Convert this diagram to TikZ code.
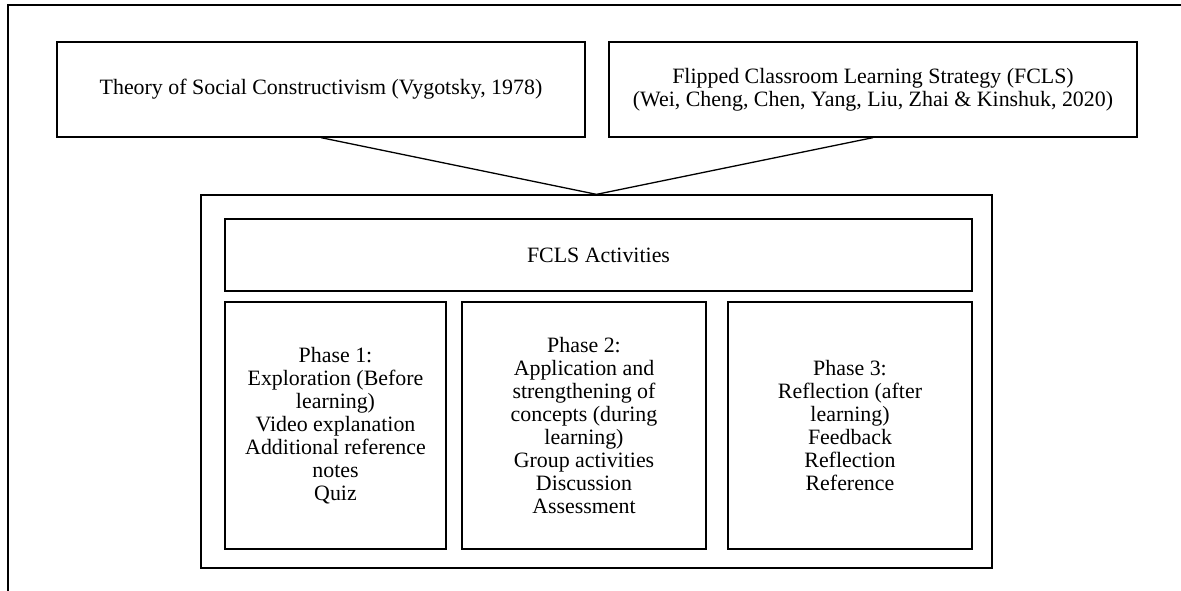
\documentclass[tikz,border=0pt]{standalone}
\usepackage{fontspec}
\setmainfont{Liberation Serif}
\begin{document}
\begin{tikzpicture}[x=1pt,y=1pt,
  box/.style={draw=black, line width=1.3pt, rectangle, inner sep=0pt, align=center,
    font=\fontsize{21.9}{22.9}\selectfont},
  link/.style={draw=black, line width=1.3pt}]
\useasboundingbox (0,0) rectangle (1181,-591);
% page frame (top and left edges only)
\coordinate (fbl) at (8,-591);
\coordinate (ftl) at (8,-5);
\coordinate (ftr) at (1181,-5);
\draw[line width=1.8pt] (fbl) -- (ftl) -- (ftr);

% theoretical sources
\node[box, minimum width=528, minimum height=95] (theory) at (321,-89.5)
  {Theory of Social Constructivism (Vygotsky, 1978)};
\node[box, minimum width=528, minimum height=95] (fcls) at (873,-89.5)
  {Flipped Classroom Learning Strategy (FCLS)\\(Wei, Cheng, Chen, Yang, Liu, Zhai \& Kinshuk, 2020)};

% activities container
\node[box, minimum width=791, minimum height=373] (cont) at (596.5,-381.5) {};
\node[box, minimum width=747, minimum height=72] (act) at (598.5,-255) {FCLS Activities};

\node[box, minimum width=221, minimum height=247] (p1) at (335.5,-425.5)
  {Phase 1:\\Exploration (Before\\learning)\\Video explanation\\Additional reference\\notes\\Quiz};
\node[box, minimum width=244, minimum height=247] (p2) at (584,-425.5)
  {Phase 2:\\Application and\\strengthening of\\concepts (during\\learning)\\Group activities\\Discussion\\Assessment};
\node[box, minimum width=244, minimum height=247] (p3) at (850,-425.5)
  {Phase 3:\\Reflection (after\\learning)\\Feedback\\Reflection\\Reference};

% connectors
\draw[link] (theory.south) -- (cont.north) -- (fcls.south);
\end{tikzpicture}
\end{document}
